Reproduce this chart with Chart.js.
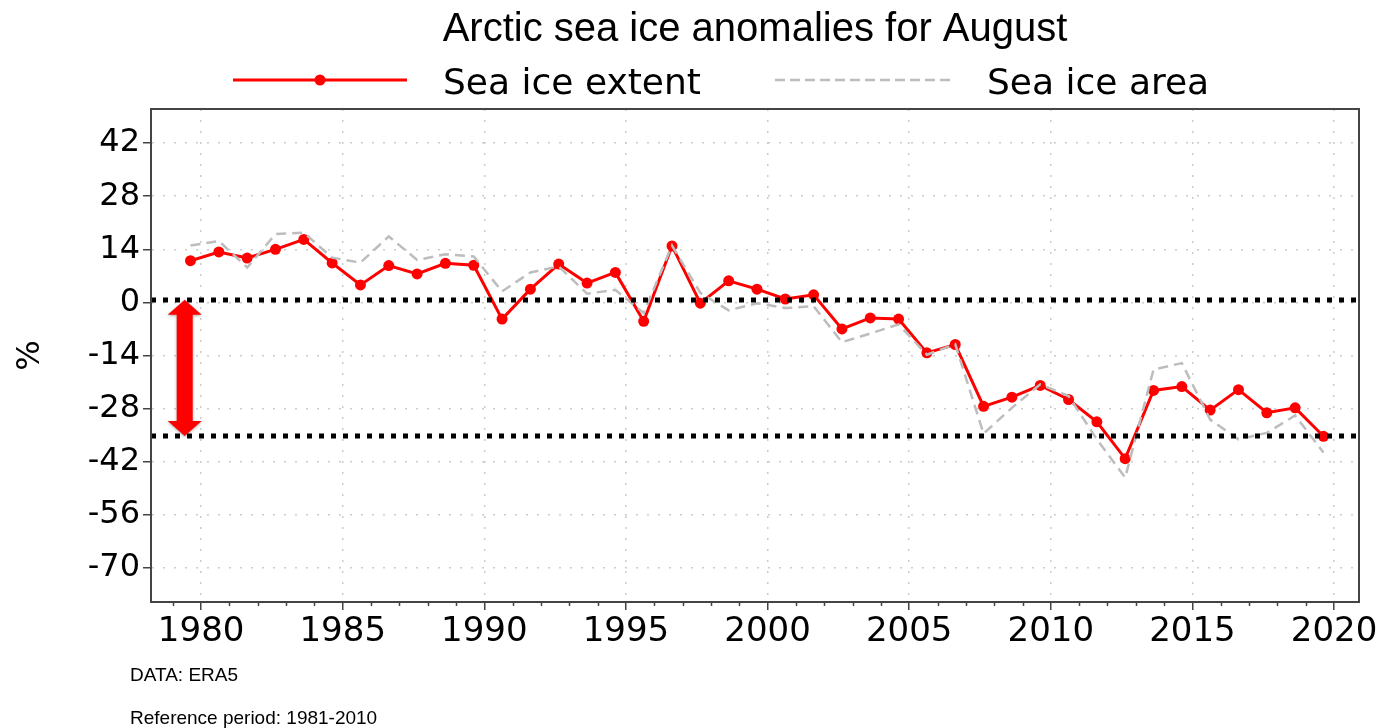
<!DOCTYPE html>
<html>
<head>
<meta charset="utf-8">
<title>Arctic sea ice anomalies for August</title>
<script src="https://cdn.jsdelivr.net/npm/chart.js@4.4.1/dist/chart.umd.min.js"></script>
<style>
  html, body { margin: 0; padding: 0; background: #fff; }
</style>
</head>
<body>
<canvas id="iceChart" width="1381" height="728"></canvas>
<script>
// August anomalies (%) relative to 1981-2010, ERA5
var years = [1979, 1980, 1981, 1982, 1983, 1984, 1985, 1986, 1987, 1988,
             1989, 1990, 1991, 1992, 1993, 1994, 1995, 1996, 1997, 1998,
             1999, 2000, 2001, 2002, 2003, 2004, 2005, 2006, 2007, 2008,
             2009, 2010, 2011, 2012, 2013, 2014, 2015, 2016, 2017, 2018, 2019];

var extentAnomaly = [11.0, 13.3, 11.7, 14.0, 16.6, 10.4, 4.6, 9.7, 7.5, 10.3,
                     9.8, -4.4, 3.5, 10.1, 5.1, 7.9, -5.0, 14.9, -0.2, 5.7,
                     3.5, 0.9, 2.0, -7.0, -4.1, -4.4, -13.3, -11.1, -27.4, -25.0,
                     -21.9, -25.6, -31.5, -41.2, -23.2, -22.2, -28.4, -23.0, -29.1, -27.8, -35.3];

var areaAnomaly = [15.0, 16.2, 9.2, 18.0, 18.4, 11.8, 10.5, 17.4, 11.2, 12.7,
                   12.1, 2.9, 7.9, 9.5, 2.3, 3.3, -2.8, 15.0, 2.5, -2.1,
                   -0.2, -1.5, -1.0, -10.5, -8.2, -5.8, -13.8, -11.0, -34.6, -27.8,
                   -21.6, -24.7, -36.1, -46.2, -17.7, -16.0, -30.9, -36.1, -34.4, -29.8, -39.6];

var yTicks = [42, 28, 14, 0, -14, -28, -42, -56, -70];
var xTickYears = [1980, 1985, 1990, 1995, 2000, 2005, 2010, 2015, 2020];

// the two dotted reference levels and where the red arrow sits
var refLevels = [0.7, -35.2];
var arrowYear = 1979.42;

// values are plotted at mid-August of each year
var MID_AUGUST = 7.5 / 12;

function toPoints(vals) {
    return vals.map(function (v, i) { return { x: years[i] + MID_AUGUST, y: v }; });
}

var axisColor = '#444';
var gridColor = '#cccccc';

var decorPlugin = {
    id: 'decor',
    afterDatasetsDraw: function (chart) {
        var ctx = chart.ctx, area = chart.chartArea;
        var xs = chart.scales.x, ys = chart.scales.y;

        // black dotted reference lines
        ctx.save();
        ctx.strokeStyle = '#000';
        ctx.lineWidth = 5;
        ctx.setLineDash([5, 7]);
        refLevels.forEach(function (v) {
            var py = Math.round(ys.getPixelForValue(v));
            ctx.beginPath();
            ctx.moveTo(area.left, py);
            ctx.lineTo(area.right, py);
            ctx.stroke();
        });
        ctx.restore();

        // double headed red arrow between the two levels
        var ax = xs.getPixelForValue(arrowYear);
        var top = ys.getPixelForValue(refLevels[0]);
        var bot = ys.getPixelForValue(refLevels[1]);
        var headW = 17, headH = 15, shaftW = 8;
        ctx.save();
        ctx.shadowColor = 'rgba(0,0,0,0.35)';
        ctx.shadowBlur = 3;
        ctx.shadowOffsetY = 1;
        ctx.fillStyle = '#ff0000';
        ctx.beginPath();
        ctx.moveTo(ax, top);
        ctx.lineTo(ax + headW, top + headH);
        ctx.lineTo(ax + shaftW, top + headH);
        ctx.lineTo(ax + shaftW, bot - headH);
        ctx.lineTo(ax + headW, bot - headH);
        ctx.lineTo(ax, bot);
        ctx.lineTo(ax - headW, bot - headH);
        ctx.lineTo(ax - shaftW, bot - headH);
        ctx.lineTo(ax - shaftW, top + headH);
        ctx.lineTo(ax - headW, top + headH);
        ctx.closePath();
        ctx.fill();
        ctx.restore();
    },
    afterDraw: function (chart) {
        var ctx = chart.ctx, area = chart.chartArea;
        var xs = chart.scales.x;

        ctx.save();
        // frame around the plot
        ctx.strokeStyle = axisColor;
        ctx.lineWidth = 2;
        ctx.strokeRect(area.left, area.top, area.right - area.left, area.bottom - area.top);

        // minor yearly ticks
        ctx.lineWidth = 1.5;
        for (var yr = 1979; yr <= 2020; yr++) {
            if (yr % 5 === 0) continue;
            var px = Math.round(xs.getPixelForValue(yr)) + 0.5;
            ctx.beginPath();
            ctx.moveTo(px, area.bottom);
            ctx.lineTo(px, area.bottom + 4);
            ctx.stroke();
        }

        // title
        ctx.fillStyle = '#000';
        ctx.textBaseline = 'alphabetic';
        ctx.textAlign = 'center';
        ctx.font = '40px "Liberation Sans", Arial, sans-serif';
        ctx.fillText('Arctic sea ice anomalies for August', (area.left + area.right) / 2, 41);

        // legend
        ctx.textAlign = 'left';
        ctx.font = '36px "DejaVu Sans", sans-serif';
        ctx.strokeStyle = '#ff0000';
        ctx.lineWidth = 3;
        ctx.beginPath();
        ctx.moveTo(233, 80);
        ctx.lineTo(407, 80);
        ctx.stroke();
        ctx.fillStyle = '#ff0000';
        ctx.beginPath();
        ctx.arc(320, 80, 5.5, 0, Math.PI * 2);
        ctx.fill();
        ctx.fillStyle = '#000';
        ctx.fillText('Sea ice extent', 443, 94);

        ctx.strokeStyle = '#bdbdbd';
        ctx.lineWidth = 2.5;
        ctx.setLineDash([10, 5]);
        ctx.beginPath();
        ctx.moveTo(775, 80);
        ctx.lineTo(953, 80);
        ctx.stroke();
        ctx.setLineDash([]);
        ctx.fillText('Sea ice area', 987, 94);

        // footnotes
        ctx.font = '19px "Liberation Sans", Arial, sans-serif';
        ctx.fillText('DATA: ERA5', 130, 681);
        ctx.fillText('Reference period: 1981-2010', 130, 724);
        ctx.restore();
    }
};

Chart.defaults.font.family = '"DejaVu Sans", sans-serif';
Chart.defaults.color = '#000';

var ctx = document.getElementById('iceChart').getContext('2d');
var chart = new Chart(ctx, {
    type: 'line',
    data: {
        datasets: [{
            label: 'Sea ice extent',
            data: toPoints(extentAnomaly),
            borderColor: '#ff0000',
            backgroundColor: '#ff0000',
            borderWidth: 3,
            pointRadius: 5.5,
            pointBorderWidth: 0,
            pointBackgroundColor: '#ff0000',
            tension: 0,
            order: 2
        }, {
            label: 'Sea ice area',
            data: toPoints(areaAnomaly),
            borderColor: '#bdbdbd',
            borderWidth: 2.5,
            borderDash: [10, 6],
            pointRadius: 0,
            tension: 0,
            order: 1
        }]
    },
    options: {
        responsive: false,
        animation: false,
        layout: {
            padding: { top: 109, right: 22, left: 0, bottom: 0 }
        },
        plugins: {
            legend: { display: false },
            title: { display: false },
            tooltip: { enabled: false }
        },
        scales: {
            x: {
                type: 'linear',
                min: 1978.23,
                max: 2020.88,
                afterBuildTicks: function (s) {
                    s.ticks = xTickYears.map(function (v) { return { value: v }; });
                },
                afterFit: function (s) { s.height = 126; },
                ticks: {
                    font: { size: 34 },
                    color: '#000',
                    padding: 2,
                    maxRotation: 0,
                    autoSkip: false,
                    callback: function (v) { return String(v); }
                },
                grid: {
                    color: gridColor,
                    lineWidth: 1.5,
                    tickLength: 8,
                    tickColor: axisColor,
                    tickWidth: 1.5
                },
                border: { color: axisColor, width: 2, dash: [2, 9] }
            },
            y: {
                min: -79,
                max: 51,
                afterBuildTicks: function (s) {
                    s.ticks = yTicks.map(function (v) { return { value: v }; });
                },
                afterFit: function (s) { s.width = 151; },
                ticks: {
                    font: { size: 32 },
                    color: '#000',
                    padding: 3
                },
                grid: {
                    color: gridColor,
                    lineWidth: 1.5,
                    tickLength: 8,
                    tickColor: axisColor,
                    tickWidth: 1.5
                },
                border: { color: axisColor, width: 2, dash: [2, 9] },
                title: {
                    display: true,
                    text: '%',
                    font: { size: 32 },
                    color: '#000',
                    padding: { top: 11, bottom: 0 }
                }
            }
        }
    },
    plugins: [decorPlugin]
});
</script>
</body>
</html>
